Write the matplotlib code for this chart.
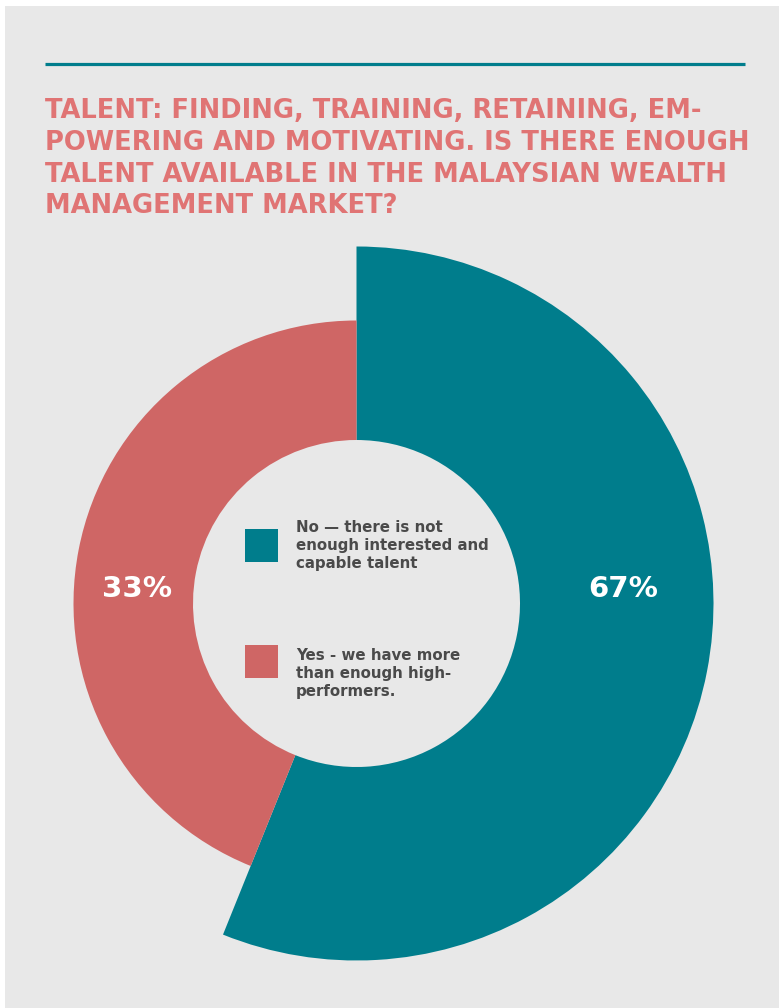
import matplotlib
matplotlib.use("Agg")
import matplotlib.pyplot as plt
from matplotlib.patches import Rectangle

# ---- data ----
title_lines = [
    "TALENT: FINDING, TRAINING, RETAINING, EM-",
    "POWERING AND MOTIVATING. IS THERE ENOUGH",
    "TALENT AVAILABLE IN THE MALAYSIAN WEALTH",
    "MANAGEMENT MARKET?",
]
categories = [
    ["No \u2014 there is not", "enough interested and", "capable talent"],
    ["Yes - we have more", "than enough high-", "performers."],
]
pct_labels = ["67%", "33%"]
# angular shares of the ring as drawn in the reference (teal, red)
drawn_shares = [56.1, 43.9]

TEAL = "#007d8c"
RED = "#cf6665"
TITLE_C = "#e07474"
BG = "#e8e8e8"
TXT = "#4a4a4a"
FONT = ["DejaVu Sans"]

W, H = 779, 1008
fig = plt.figure(figsize=(W / 100, H / 100), dpi=100, facecolor="white")
ax = fig.add_axes([0, 0, 1, 1])


def Y(p):
    return H - p


ax.add_patch(Rectangle((5, 0), W - 5, H - 6, facecolor=BG, edgecolor="none", zorder=0))
ax.plot([45, 745], [Y(63.5), Y(63.5)], color=TEAL, lw=2.3, solid_capstyle="butt", zorder=1)

# title
for i, line in enumerate(title_lines):
    ax.text(45, Y(118 + i * 31.8), line, family=FONT, weight="bold",
            fontsize=18.5, color=TITLE_C, ha="left", va="baseline", zorder=3)

# ring
cx, cy = 356.5, Y(603.5)
r_in = 163.5
ax.pie(drawn_shares, colors=[TEAL, "none"], startangle=90, counterclock=False,
       radius=357, center=(cx, cy), wedgeprops=dict(width=357 - r_in, linewidth=0))
ax.pie(drawn_shares, colors=["none", RED], startangle=90, counterclock=False,
       radius=283, center=(cx, cy), wedgeprops=dict(width=283 - r_in, linewidth=0))

# percentage labels
for x, lab in zip([623, 137], pct_labels):
    ax.text(x, Y(597), lab, family=FONT, weight="bold",
            fontsize=21, color="white", ha="center", va="baseline", zorder=4)

# legend in the hole
sq_tops = [529, 645]
txt_base = [532, 660]
for col, top, base, lines in zip([TEAL, RED], sq_tops, txt_base, categories):
    ax.add_patch(Rectangle((245, Y(top + 33)), 33, 33, facecolor=col, edgecolor="none", zorder=4))
    for j, ln in enumerate(lines):
        ax.text(296, Y(base + j * 18), ln, family=FONT, weight="bold",
                fontsize=10.8, color=TXT, ha="left", va="baseline", zorder=4)

ax.set_xlim(0, W)
ax.set_ylim(0, H)
ax.set_aspect("equal")
ax.axis("off")
fig.savefig("out.png", dpi=100, facecolor="white")
